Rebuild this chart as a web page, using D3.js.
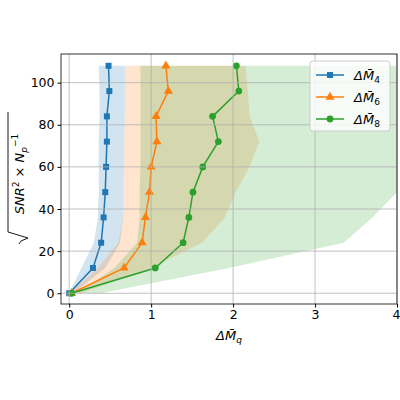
<!DOCTYPE html><html><head><script src="https://cdn.jsdelivr.net/npm/d3@7"></script>
<style>body{margin:0;background:#fff}text{font-family:"DejaVu Sans";}</style></head><body><svg id="c" width="400" height="400"></svg>
<script>
const yVals=[0,12,24,36,48,60,72,84,96,108];
const m4=[0.0,0.29,0.39,0.42,0.44,0.45,0.46,0.46,0.49,0.48];
const m6=[0.03,0.67,0.89,0.93,0.98,1.0,1.07,1.06,1.21,1.18];
const m8=[0.03,1.05,1.39,1.46,1.51,1.63,1.82,1.75,2.07,2.04];
const lo4=[0.0,0.15,0.3,0.35,0.36,0.36,0.36,0.37,0.37,0.36];
const hi4=[0.05,0.44,0.62,0.66,0.66,0.67,0.67,0.68,0.68,0.68];
const lo6=[0.0,0.35,0.6,0.66,0.66,0.67,0.67,0.68,0.68,0.68];
const hi6=[0.15,0.99,1.62,1.9,2.03,2.2,2.32,2.2,2.18,2.15];
const lo8=[0.1,0.55,0.83,0.86,0.86,0.87,0.87,0.87,0.87,0.87];
const hi8=[0.38,1.95,3.35,3.7,4.0,4.3,4.6,4.8,5.0,5.0];
const xTicks=[0,1,2,3,4], yTicks=[0,20,40,60,80,100];
const L=61,R=397,T=54,B=304;
const x=d3.scaleLinear().domain([-0.1,4]).range([L,R]);
const y=d3.scaleLinear().domain([-5.1,113.6]).range([B,T]);
const svg=d3.select("#c");
svg.append("clipPath").attr("id","cp").append("rect").attr("x",L).attr("y",T).attr("width",R-L).attr("height",B-T);
const g=svg.append("g").attr("clip-path","url(#cp)");
const grid=svg.append("g");
xTicks.forEach(t=>grid.append("line").attr("x1",x(t)).attr("x2",x(t)).attr("y1",T).attr("y2",B).attr("stroke","#b0b0b0").attr("stroke-width",0.8));
yTicks.forEach(t=>grid.append("line").attr("y1",y(t)).attr("y2",y(t)).attr("x1",L).attr("x2",R).attr("stroke","#b0b0b0").attr("stroke-width",0.8));
const cols=["#1f77b4","#ff7f0e","#2ca02c"];
const series=[[m4,lo4,hi4,"square"],[m6,lo6,hi6,"triangle"],[m8,lo8,hi8,"circle"]];
const area=d3.area().y((d,i)=>y(yVals[i])).x0(d=>x(d[0])).x1(d=>x(d[1]));
series.forEach((s,k)=>{g.append("path").attr("d",area(s[1].map((v,i)=>[v,s[2][i]]))).attr("fill",cols[k]).attr("fill-opacity",0.2);});
const line=d3.line().x(d=>x(d)).y((d,i)=>y(yVals[i]));
const sym={square:d3.symbolSquare,triangle:d3.symbolTriangle,circle:d3.symbolCircle};
series.forEach((s,k)=>{
 g.append("path").attr("d",line(s[0])).attr("fill","none").attr("stroke",cols[k]).attr("stroke-width",1.5);
 s[0].forEach((v,i)=>g.append("path").attr("d",d3.symbol(sym[s[3]],36)()).attr("transform",`translate(${x(v)},${y(yVals[i])})`).attr("fill",cols[k]));
});
svg.append("rect").attr("x",L).attr("y",T).attr("width",R-L).attr("height",B-T).attr("fill","none").attr("stroke","#000").attr("stroke-width",0.8);
const xa=svg.append("g").attr("transform",`translate(0,${B})`).call(d3.axisBottom(x).tickValues(xTicks).tickFormat(d3.format("d")).tickSize(3.5).tickPadding(3));
const ya=svg.append("g").attr("transform",`translate(${L},0)`).call(d3.axisLeft(y).tickValues(yTicks).tickFormat(d3.format("d")).tickSize(3.5).tickPadding(3));
[xa,ya].forEach(a=>{a.select(".domain").remove();a.selectAll("text").attr("font-size",12.5).attr("fill","#000").attr("font-family","DejaVu Sans");});
xa.selectAll(".tick").filter(d=>d===4).select("text").attr("text-anchor","end").attr("dx",3);
svg.append("text").attr("x",(L+R)/2).attr("y",340).attr("text-anchor","middle").attr("font-size",13).html('<tspan font-style="italic">Δ</tspan><tspan font-style="italic">M̄</tspan><tspan font-style="italic" font-size="9" dy="3">q</tspan>');
const yl=svg.append("g").attr("transform","translate(24,182) rotate(-90)");
yl.append("text").attr("text-anchor","middle").attr("x",8).attr("y",0).attr("font-size",13).html('<tspan font-style="italic">SNR</tspan><tspan font-size="9" dy="-5">2</tspan><tspan dy="5"> × </tspan><tspan font-style="italic">N</tspan><tspan font-style="italic" font-size="9" dy="3">p</tspan><tspan font-size="9" dy="-9">−1</tspan>');
yl.append("path").attr("d","M-62,-5 L-59,-3 L-56,4 L-50,-16 L70,-16").attr("fill","none").attr("stroke","#000").attr("stroke-width",0.9);
const lg=svg.append("g").attr("transform","translate(310,61)");
lg.append("rect").attr("width",80).attr("height",70).attr("rx",3).attr("fill","#fff").attr("fill-opacity",0.8).attr("stroke","#ccc");
const labs=["4","6","8"];
series.forEach((s,k)=>{const yy=14+k*22;
 lg.append("line").attr("x1",6).attr("x2",34).attr("y1",yy).attr("y2",yy).attr("stroke",cols[k]).attr("stroke-width",1.5);
 lg.append("path").attr("d",d3.symbol(sym[s[3]],36)()).attr("transform",`translate(20,${yy})`).attr("fill",cols[k]);
 lg.append("text").attr("x",44).attr("y",yy+5).attr("font-size",13).html(`<tspan font-style="italic">Δ</tspan><tspan font-style="italic">M̄</tspan><tspan font-size="9" dy="3">${labs[k]}</tspan>`);
});
</script></body></html>
